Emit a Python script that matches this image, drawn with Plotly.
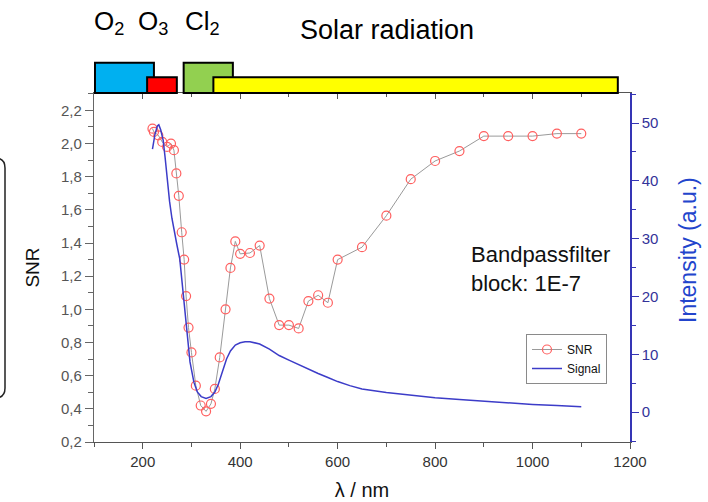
import plotly.graph_objects as go

# SNR measured through the bandpass filter (block 1E-7)
snr_wavelength = [220, 223, 232, 240, 250, 258, 264, 269, 274, 280, 285, 289, 294, 300,
                  309, 319, 330, 340, 348, 358, 370, 380, 390, 400, 420, 440, 460, 480,
                  500, 520, 540, 560, 580, 600, 650, 700, 750, 800, 850, 900, 950, 1000,
                  1050, 1100]
snr_values = [2.09, 2.07, 2.05, 2.01, 1.98, 2.00, 1.96, 1.82, 1.685, 1.465, 1.30, 1.08, 0.89, 0.74,
              0.54, 0.42, 0.385, 0.43, 0.52, 0.71, 1.00, 1.25, 1.41, 1.335, 1.34, 1.385, 1.065, 0.905,
              0.905, 0.885, 1.05, 1.085, 1.04, 1.30, 1.375, 1.565, 1.785, 1.895, 1.955, 2.045, 2.045, 2.045,
              2.06, 2.06]

# Transmitted signal intensity
signal_wavelength = [220, 225, 230, 233, 237, 242, 246, 250, 255, 260, 265, 270, 276, 283, 290,
                     297, 305, 312, 320, 330, 340, 348, 355, 362, 372, 380, 390, 400, 410, 420,
                     430, 440, 460, 480, 500, 520, 540, 560, 580, 600, 625, 650, 700, 750, 800,
                     850, 900, 950, 1000, 1050, 1100]
signal_values = [45.5, 48.0, 49.5, 49.7, 48.8, 47.0, 44.0, 40.0, 36.5, 33.5, 31.0, 29.0, 26.5, 20.2, 13.9,
                 8.7, 5.2, 3.5, 2.7, 2.4, 2.7, 3.5, 4.8, 6.5, 9.2, 10.6, 11.6, 12.0, 12.2, 12.2,
                 12.0, 11.8, 10.9, 9.8, 9.0, 8.2, 7.4, 6.7, 6.0, 5.3, 4.6, 4.0, 3.4, 2.9, 2.5,
                 2.2, 1.9, 1.6, 1.35, 1.15, 0.95]

# Absorption / emission bands drawn above the plot (wavelength ranges, nm)
band_names = ["O2", "O3", "Cl2", "Solar"]
band_start = [102, 209, 284, 345]
band_end = [223, 270, 385, 1175]
band_colors = ["#00b0f0", "#ff0000", "#92d050", "#ffff00"]
band_tall = [True, False, True, False]

FONT = "Liberation Sans, Arial, sans-serif"
W, H = 708, 502
ML, MR, MT, MB = 94, 78, 93, 60
PW, PH = W - ML - MR, H - MT - MB


def px_x(px):
    return (px - ML) / PW


def px_y(py):
    return (H - MB - py) / PH


fig = go.Figure()

fig.add_trace(go.Scatter(
    x=snr_wavelength, y=snr_values, name="SNR", mode="lines+markers",
    line=dict(color="#9a9a9a", width=1),
    marker=dict(symbol="circle-open", size=9, color="#ff5f5f", line=dict(width=1.2)),
    xaxis="x", yaxis="y",
))
fig.add_trace(go.Scatter(
    x=signal_wavelength, y=signal_values, name="Signal", mode="lines",
    line=dict(color="#3c3cc8", width=1.5),
    xaxis="x", yaxis="y2",
))
# empty trace so the top (mirror) axis is rendered
fig.add_trace(go.Scatter(x=[], y=[], xaxis="x2", yaxis="y", showlegend=False, hoverinfo="skip"))

shapes = []
for s, e, c, tall in zip(band_start, band_end, band_colors, band_tall):
    shapes.append(dict(
        type="rect", xref="x", yref="paper", x0=s, x1=e,
        y0=1.0, y1=px_y(62.7) if tall else px_y(77.3),
        fillcolor=c, line=dict(color="black", width=2), layer="above",
    ))

# rounded frame partly visible at the left edge
r = 10
x0, x1 = px_x(-40), px_x(5)
ya, yb = 158, 398
path = (f"M {x0} {px_y(ya)} L {px_x(5 - r)} {px_y(ya)} "
        f"Q {x1} {px_y(ya)} {x1} {px_y(ya + r)} "
        f"L {x1} {px_y(yb - r)} Q {x1} {px_y(yb)} {px_x(5 - r)} {px_y(yb)} "
        f"L {x0} {px_y(yb)}")
shapes.append(dict(type="path", xref="paper", yref="paper", path=path,
                   line=dict(color="#222222", width=1.5)))

annotations = [
    dict(text="O<sub>2</sub>", x=px_x(92), y=px_y(23), xanchor="left", yanchor="middle"),
    dict(text="O<sub>3</sub>", x=px_x(136), y=px_y(23), xanchor="left", yanchor="middle"),
    dict(text="Cl<sub>2</sub>", x=px_x(183), y=px_y(23), xanchor="left", yanchor="middle"),
]
for a in annotations:
    a.update(xref="paper", yref="paper", showarrow=False,
             font=dict(family=FONT, size=26, color="black"))
annotations.append(dict(text="Solar radiation", x=px_x(387), y=px_y(30), xref="paper", yref="paper",
                        xanchor="center", yanchor="middle", showarrow=False,
                        font=dict(family=FONT, size=27, color="black")))
annotations.append(dict(text="Bandpassfilter<br>block: 1E-7", x=px_x(469), y=px_y(269),
                        xref="paper", yref="paper", xanchor="left", yanchor="middle", align="left",
                        showarrow=False, font=dict(family=FONT, size=22, color="#111111")))
# right axis title
annotations.append(dict(text="Intensity (a.u.)", x=px_x(688), y=px_y(250), xref="paper", yref="paper",
                        xanchor="center", yanchor="middle", textangle=-90, showarrow=False,
                        font=dict(family=FONT, size=23, color="#2244cc")))

fig.update_layout(
    width=W, height=H,
    margin=dict(l=ML, r=MR, t=MT, b=MB, pad=0, autoexpand=False),
    paper_bgcolor="white", plot_bgcolor="white",
    font=dict(family=FONT),
    showlegend=True,
    legend=dict(x=px_x(607), y=px_y(334), xanchor="right", yanchor="top",
                bgcolor="white", bordercolor="#8a8a8a", borderwidth=1,
                font=dict(family=FONT, size=12, color="#111111"),
                itemwidth=30, tracegroupgap=0),
    xaxis=dict(
        range=[100, 1200], dtick=200, tick0=0, showgrid=False, zeroline=False, automargin=False,
        showline=True, linecolor="#555555", linewidth=1.2,
        ticks="outside", ticklen=6, tickcolor="#555555",
        minor=dict(dtick=100, ticks="outside", ticklen=4, tickcolor="#555555"),
        tickfont=dict(family=FONT, size=15, color="#333333"),
        title=dict(text="λ / nm", font=dict(family=FONT, size=20, color="#111111"), standoff=13),
    ),
    xaxis2=dict(
        range=[100, 1200], overlaying="x", side="top", anchor="y", dtick=200, tick0=0,
        showgrid=False, zeroline=False, showticklabels=False, automargin=False,
        showline=True, linecolor="#555555", linewidth=1.2,
        ticks="inside", ticklen=6, tickcolor="#555555",
        minor=dict(dtick=100, ticks="inside", ticklen=4, tickcolor="#555555"),
    ),
    yaxis=dict(
        range=[0.2, 2.305], dtick=0.2, tick0=0.2, showgrid=False, zeroline=False, automargin=False,
        showline=True, linecolor="#666666", linewidth=1.2,
        ticks="outside", ticklen=8, tickcolor="#666666",
        minor=dict(dtick=0.1, ticks="outside", ticklen=5, tickcolor="#666666"),
        tickformat=".1f",
        tickfont=dict(family=FONT, size=15, color="#555555"),
        title=dict(text="SNR", font=dict(family=FONT, size=19, color="#111111"), standoff=16),
    ),
    yaxis2=dict(
        range=[-5.15, 55.2], dtick=10, tick0=0, overlaying="y", side="right", anchor="x",
        showgrid=False, zeroline=False, automargin=False,
        showline=True, linecolor="#3535b5", linewidth=1.5,
        ticks="outside", ticklen=7, tickcolor="#3535b5",
        minor=dict(dtick=5, ticks="outside", ticklen=4, tickcolor="#3535b5"),
        tickfont=dict(family=FONT, size=15, color="#333399"),
    ),
    separators=",.",
    shapes=shapes,
    annotations=annotations,
)

fig.write_html("out.html")
